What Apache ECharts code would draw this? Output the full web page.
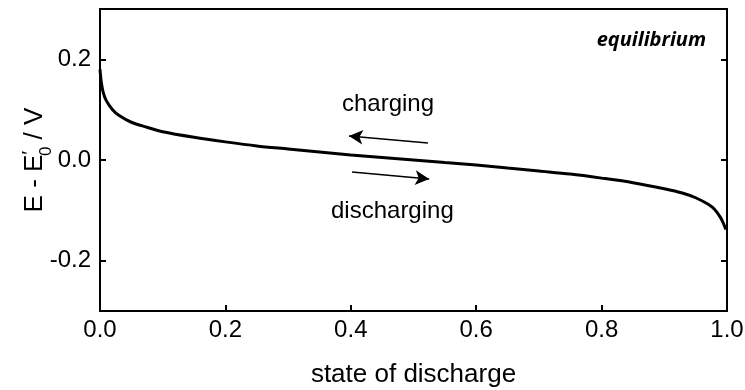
<!DOCTYPE html>
<html>
<head>
<meta charset="utf-8">
<script src="https://cdn.jsdelivr.net/npm/echarts@6/dist/echarts.min.js"></script>
<style>
html,body{margin:0;padding:0;background:#fff;}
#chart{width:745px;height:390px;}
</style>
</head>
<body>
<div id="chart"></div>
<script>
// state of discharge (x) and potential E - E0' (V)
var sod = [0, 0.002, 0.005, 0.01, 0.02, 0.03, 0.05, 0.075, 0.1, 0.15, 0.2, 0.25, 0.3, 0.35, 0.4, 0.45, 0.5, 0.55, 0.6, 0.65, 0.7, 0.75, 0.8, 0.85, 0.9, 0.93, 0.95, 0.97, 0.98, 0.99, 0.995, 0.998];
var potential = [0.180, 0.155, 0.135, 0.118, 0.100, 0.089, 0.075, 0.065, 0.056, 0.045, 0.036, 0.028, 0.022, 0.016, 0.010, 0.005, 0.0, -0.005, -0.010, -0.016, -0.022, -0.028, -0.036, -0.045, -0.057, -0.066, -0.075, -0.088, -0.098, -0.115, -0.128, -0.138];
var yTicks = [-0.2, 0, 0.2];
var xTicks = [0, 0.2, 0.4, 0.6, 0.8, 1.0];
// arrow endpoints in data coordinates [x, y]
var chargingArrow = [[0.523, 0.0337], [0.397, 0.0475]];
var dischargingArrow = [[0.402, -0.0238], [0.525, -0.0376]];

var seriesData = sod.map(function (x, i) { return [x, potential[i]]; });
var font = 'Liberation Sans, Arial, sans-serif';
var fs = 24;
var titleFs = 26;

var chart = echarts.init(document.getElementById('chart'));
chart.setOption({
  animation: false,
  backgroundColor: '#fff',
  grid: { left: 100, right: 18, top: 9, bottom: 79, containLabel: false, outerBoundsMode: 'none', show: true, borderColor: '#000', borderWidth: 2, backgroundColor: 'transparent' },
  xAxis: {
    type: 'value', min: 0, max: 1, interval: 0.2,
    name: 'state of discharge', nameLocation: 'middle', nameGap: 51, nameMoveOverlap: false,
    nameTextStyle: { fontFamily: font, fontSize: titleFs, color: '#000' },
    axisLine: { show: true, onZero: false, lineStyle: { color: '#000', width: 2 } },
    axisTick: { show: true, inside: true, length: 6, lineStyle: { color: '#000', width: 2 } },
    axisLabel: { fontFamily: font, fontSize: fs, color: '#000', margin: 7, formatter: function (v) { return v.toFixed(1); } },
    splitLine: { show: false }
  },
  yAxis: [{
    type: 'value', min: -0.3, max: 0.3, position: 'left',
    name: '{a|E - E}{p|\u2032}{s|0}{a| / V}', nameLocation: 'middle', nameGap: 50, nameRotate: 90, nameMoveOverlap: false,
    nameTextStyle: {
      fontFamily: font, fontSize: titleFs, color: '#000',
      rich: {
        a: { fontFamily: font, fontSize: titleFs, color: '#000', lineHeight: 30 },
        p: { fontFamily: font, fontSize: 19, color: '#000', lineHeight: 30, verticalAlign: 'top', padding: [0, -5, 0, 0] },
        s: { fontFamily: font, fontSize: 17, color: '#000', lineHeight: 30, verticalAlign: 'bottom', padding: [0, 0, -5, 0] }
      }
    },
    axisLine: { show: true, onZero: false, lineStyle: { color: '#000', width: 2 } },
    axisTick: { show: true, inside: true, length: 6, lineStyle: { color: '#000', width: 2 }, customValues: yTicks },
    axisLabel: { fontFamily: font, fontSize: fs, color: '#000', margin: 9, customValues: yTicks, formatter: function (v) { return v.toFixed(1); } },
    splitLine: { show: false }
  }, {
    type: 'value', min: -0.3, max: 0.3, position: 'right',
    axisLine: { show: true, onZero: false, lineStyle: { color: '#000', width: 2 } },
    axisTick: { show: true, inside: true, length: 6, lineStyle: { color: '#000', width: 2 }, customValues: yTicks },
    axisLabel: { show: false },
    splitLine: { show: false }
  }],
  graphic: [
    { type: 'text', right: 39, top: 30, style: { text: 'equilibrium', font: 'italic bold 20px "Open Sans", sans-serif', fill: '#000' } },
    { type: 'text', left: 342, top: 92, style: { text: 'charging', font: fs + 'px ' + font, fill: '#000' } },
    { type: 'text', left: 331, top: 199, style: { text: 'discharging', font: fs + 'px ' + font, fill: '#000' } }
  ],
  series: [{
    type: 'line', data: seriesData, showSymbol: false, smooth: 0.3,
    lineStyle: { color: '#000', width: 3 },
    markLine: {
      silent: true, symbol: ['none', 'arrow'], symbolSize: [11, 14],
      label: { show: false },
      lineStyle: { color: '#000', width: 1.5, type: 'solid' },
      data: [
        [{ coord: chargingArrow[0] }, { coord: chargingArrow[1] }],
        [{ coord: dischargingArrow[0] }, { coord: dischargingArrow[1] }]
      ]
    }
  }]
});
</script>
</body>
</html>
